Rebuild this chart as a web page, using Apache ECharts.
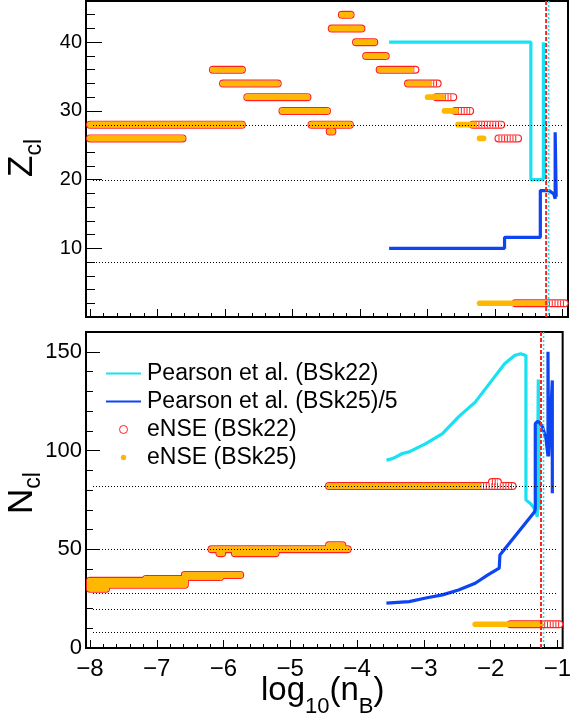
<!DOCTYPE html>
<html><head><meta charset="utf-8">
<script src="https://cdn.jsdelivr.net/npm/echarts@6/dist/echarts.min.js"></script>
<style>html,body{margin:0;padding:0;background:#fff}#c{width:574px;height:722px}</style>
</head><body><div id="c"></div>
<script>
// ---------- data ----------
const xTickValues = [-8,-7,-6,-5,-4,-3,-2,-1];
const xTickLabels = ['\u22128','\u22127','\u22126','\u22125','\u22124','\u22123','\u22122','\u22121'];
const zTickLabels = ['10','20','30','40'];
const nTickLabels = ['0','50','100','150'];
const magicNumbers = [8, 20, 28, 50, 82];
const magicLineRange = [-7.95, -1.0];
const dripLines = [-1.244, -1.206];

// eNSE plateaus: [log10 nB start, log10 nB end, value]
const zBSk22 = [
  [-8.00,-6.63,26],[-8.00,-5.75,28],[-6.18,-5.75,36],[-6.03,-5.22,34],[-5.67,-4.78,32],
  [-5.15,-4.49,30],[-4.72,-4.15,28],[-4.45,-4.41,27],[-4.27,-4.14,44],[-4.42,-3.98,42],
  [-4.06,-3.79,40],[-3.91,-3.62,38],[-3.71,-3.18,36],[-3.29,-2.85,34],[-2.87,-2.62,32],
  [-2.59,-2.37,30],[-2.33,-1.91,28],[-1.95,-1.66,26],[-1.70,-0.97,2]
];
const zBSk25 = [
  [-8.00,-6.63,26],[-8.00,-5.75,28],[-6.18,-5.75,36],[-6.03,-5.22,34],[-5.67,-4.78,32],
  [-5.15,-4.49,30],[-4.72,-4.15,28],[-4.45,-4.41,27],[-4.27,-4.14,44],[-4.42,-3.98,42],
  [-4.06,-3.79,40],[-3.91,-3.62,38],[-3.71,-3.24,36],[-3.29,-2.97,34],[-3.00,-2.78,32],
  [-2.75,-2.58,30],[-2.55,-2.31,28],[-2.23,-2.17,26],[-2.23,-1.25,2]
];
const nBSk22 = [
  [-8.00,-7.76,30],[-8.00,-7.76,31],[-8.00,-6.58,32],[-8.00,-6.58,33],[-8.00,-6.58,34],
  [-7.16,-6.58,35],[-6.58,-6.05,36],[-6.58,-5.75,37],
  [-6.18,-4.14,50],[-6.06,-6.02,48],[-5.83,-5.22,48],[-4.42,-4.22,52],
  [-4.42,-1.67,82],[-1.98,-1.89,84],[-1.70,-0.97,12]
];
const nBSk25 = [
  [-8.00,-7.76,30],[-8.00,-7.76,31],[-8.00,-6.58,32],[-8.00,-6.58,33],[-8.00,-6.58,34],
  [-7.16,-6.58,35],[-6.58,-6.05,36],[-6.58,-5.75,37],
  [-6.18,-4.14,50],[-6.06,-6.02,48],[-5.83,-5.22,48],[-4.42,-4.22,52],
  [-4.42,-2.17,82],[-2.23,-1.25,12]
];

// Pearson et al. curves
const pearsonZ22 = [[-3.57,40],[-1.47,40],[-1.47,20],[-1.285,20],[-1.285,40],[-1.265,40],[-1.265,20]];
const pearsonZ25 = [[-3.57,10],[-1.86,10],[-1.86,11.6],[-1.33,11.6],[-1.33,18.4],[-1.20,18.4],[-1.13,17.9],[-1.11,17.2],[-1.11,26.9],[-1.095,17.5]];
const pearsonN22 = [[-3.56,95.1],[-3.46,96.0],[-3.32,98.5],[-3.22,99.3],[-2.97,103.5],[-2.72,108.6],[-2.48,117.0],[-2.23,124.5],[-1.98,135.5],[-1.79,143.9],[-1.64,148.1],[-1.55,149.0],[-1.47,148.1],[-1.47,75.0],[-1.40,73.0],[-1.34,70.5],[-1.30,66.5],[-1.285,66.5],[-1.285,136],[-1.265,136],[-1.265,70]];
const pearsonN25 = [[-3.56,22.7],[-3.22,23.5],[-2.97,25.3],[-2.72,26.9],[-2.48,29.4],[-2.23,32.8],[-2.04,37.0],[-1.87,40.4],[-1.86,47.1],[-1.34,69.0],[-1.33,70.5],[-1.33,113.6],[-1.30,114.6],[-1.27,114.4],[-1.22,111.9],[-1.17,106.0],[-1.14,97.0],[-1.14,150.0],[-1.13,97.0],[-1.075,135.5],[-1.075,78.3]];

// ---------- style ----------
const FONT = 'Liberation Sans';
const RED = '#ff2020', ORANGE = '#ffb800', CYAN = '#18e2f2', BLUE = '#0d45f2';

function capsules(name, data, gi, color, width, z, dash) {
  return {
    type:'custom', name, data, xAxisIndex:gi, yAxisIndex:gi, z, clip:false, silent:true,
    encode:{x:[0,1], y:2},
    renderItem(params, api){
      const p1 = api.coord([api.value(0), api.value(2)]);
      const p2 = api.coord([api.value(1), api.value(2)]);
      const style = {stroke:color, lineWidth:width, lineCap: dash ? 'butt' : 'round', fill:null};
      if (dash) style.lineDash = dash;
      return {type:'line', shape:{x1:p1[0],y1:p1[1],x2:p2[0],y2:p2[1]}, style};
    }
  };
}
function hLines(data, gi) {
  return {
    type:'custom', data, xAxisIndex:gi, yAxisIndex:gi, z:20, silent:true,
    encode:{x:[0,1], y:2},
    renderItem(params, api){
      const p1 = api.coord([api.value(0), api.value(2)]);
      const p2 = api.coord([api.value(1), api.value(2)]);
      const y = Math.round(p1[1]) + 0.5;
      return {type:'line', shape:{x1:Math.round(p1[0]),y1:y,x2:Math.round(p2[0]),y2:y},
        style:{stroke:'#000', lineWidth:1, lineDash:[1,2]}};
    }
  };
}
function vLines(data, gi) {
  const styles = [{stroke:RED, lineWidth:2, lineDash:[4,2]}, {stroke:CYAN, lineWidth:1.5, lineDash:[2,2]}];
  return {
    type:'custom', data:data.map(v=>[v]), xAxisIndex:gi, yAxisIndex:gi, z:30, silent:true,
    encode:{x:0},
    renderItem(params, api){
      const cs = params.coordSys;
      const x = api.coord([api.value(0), 0])[0];
      return {type:'line', shape:{x1:x,y1:cs.y,x2:x,y2:cs.y+cs.height},
        style:styles[params.dataIndex]};
    }
  };
}
function pearson(name, data, gi, color) {
  return {type:'line', name, data, xAxisIndex:gi, yAxisIndex:gi, z:10, showSymbol:false, symbol:'none',
    lineStyle:{color, width:3.2}, itemStyle:{color}, silent:true, clip:false};
}

const xFmt = v => {
  const i = xTickValues.findIndex(t => Math.abs(t - v) < 1e-6);
  return i >= 0 ? xTickLabels[i] : '';
};
function xAxis(gi, showLabels) {
  return {type:'value', gridIndex:gi, min:-8.06, max:-0.92, splitNumber:7,
    axisLine:{show:false}, splitLine:{show:false},
    axisTick:{inside:true, length:8, lineStyle:{color:'#000', width:1}},
    minorTick:{show:true, splitNumber:5, length:4, lineStyle:{color:'#000', width:1}},
    axisLabel:{show:showLabels, formatter:xFmt, fontFamily:FONT, fontSize:24, color:'#000', margin:9}};
}
function yAxis(gi, max, interval, labels, fs, tl, ml) {
  return {type:'value', gridIndex:gi, min:0, max, interval,
    axisLine:{show:false}, splitLine:{show:false},
    axisTick:{inside:true, length:tl, lineStyle:{color:'#000', width:1}},
    minorTick:{show:true, splitNumber:5, length:ml, lineStyle:{color:'#000', width:1}},
    axisLabel:{formatter:v => { const s = String(Math.round(v)); return labels.includes(s) ? s : ''; },
      fontFamily:FONT, fontSize:fs, color:'#000', margin:4}};
}

const chart = echarts.init(document.getElementById('c'), null, {renderer:'canvas'});
chart.setOption({
  animation:false,
  backgroundColor:'#fff',
  grid:[
    {left:86, top:1, width:482, height:316, show:true, borderColor:'#000', borderWidth:2, backgroundColor:'transparent'},
    {left:86, top:332, width:482, height:316, show:true, borderColor:'#000', borderWidth:2, backgroundColor:'transparent'}
  ],
  xAxis:[xAxis(0,false), xAxis(1,true)],
  yAxis:[yAxis(0,46,10,zTickLabels,20,16,9), yAxis(1,160,50,nTickLabels,22,14,7)],
  legend:{
    left:100, top:357, orient:'vertical', itemWidth:35, itemHeight:8, itemGap:5,
    selectedMode:false,
    textStyle:{fontFamily:FONT, fontSize:23, color:'#000', padding:[0,0,0,1]},
    data:[
      {name:'Pearson et al. (BSk22)', itemStyle:{opacity:0}},
      {name:'Pearson et al. (BSk25)/5', itemStyle:{opacity:0}},
      {name:'eNSE (BSk22)', icon:'circle', itemStyle:{color:'#fff', borderColor:RED, borderWidth:1}},
      {name:'eNSE (BSk25)', icon:'circle', itemStyle:{color:ORANGE, borderColor:'#fff', borderWidth:2.5}}
    ]
  },
  graphic:[
    {type:'text', x:22.5, y:177, rotation:Math.PI/2, silent:true,
      style:{text:'{a|Z}{b|cl}', align:'left', verticalAlign:'middle', textAlign:'left', textVerticalAlign:'middle',
        rich:{a:{fontFamily:FONT, fontSize:35, fill:'#000'}, b:{fontFamily:FONT, fontSize:23, fill:'#000', padding:[24,0,0,0]}}}},
    {type:'text', x:22, y:514, rotation:Math.PI/2, silent:true,
      style:{text:'{a|N}{b|cl}', align:'left', verticalAlign:'middle', textAlign:'left', textVerticalAlign:'middle',
        rich:{a:{fontFamily:FONT, fontSize:35, fill:'#000'}, b:{fontFamily:FONT, fontSize:23, fill:'#000', padding:[24,0,0,0]}}}},
    {type:'text', x:261, y:691, silent:true,
      style:{text:'{m|log}{s|10}{m|(n}{s|B}{m|)}', align:'left', verticalAlign:'middle', textAlign:'left', textVerticalAlign:'middle',
        rich:{m:{fontFamily:FONT, fontSize:33, fill:'#000'}, s:{fontFamily:FONT, fontSize:22, fill:'#000', padding:[31,0,0,0]}}}}
  ],
  series:[
    capsules('eNSE (BSk22)', zBSk22, 0, RED, 8, 2),
    capsules('bsk22-in-z', zBSk22, 0, '#fff', 5.6, 3),
    capsules('bsk22-ring-z', zBSk22, 0, RED, 5.6, 3.5, [1, 1.8]),
    capsules('eNSE (BSk25)', zBSk25, 0, ORANGE, 5.6, 4),
    capsules('eNSE (BSk22)', nBSk22, 1, RED, 8, 2),
    capsules('bsk22-in-n', nBSk22, 1, '#fff', 5.6, 3),
    capsules('bsk22-ring-n', nBSk22, 1, RED, 5.6, 3.5, [1, 1.8]),
    capsules('eNSE (BSk25)', nBSk25, 1, ORANGE, 5.6, 4),
    pearson('Pearson et al. (BSk22)', pearsonZ22, 0, CYAN),
    pearson('Pearson et al. (BSk25)/5', pearsonZ25, 0, BLUE),
    pearson('Pearson et al. (BSk22)', pearsonN22, 1, CYAN),
    pearson('Pearson et al. (BSk25)/5', pearsonN25, 1, BLUE),
    hLines(magicNumbers.map(m => [magicLineRange[0], magicLineRange[1], m]).filter(d => d[2] <= 46), 0),
    hLines(magicNumbers.map(m => [magicLineRange[0], magicLineRange[1], m]), 1),
    vLines(dripLines, 0),
    vLines(dripLines, 1)
  ]
});
</script></body></html>
